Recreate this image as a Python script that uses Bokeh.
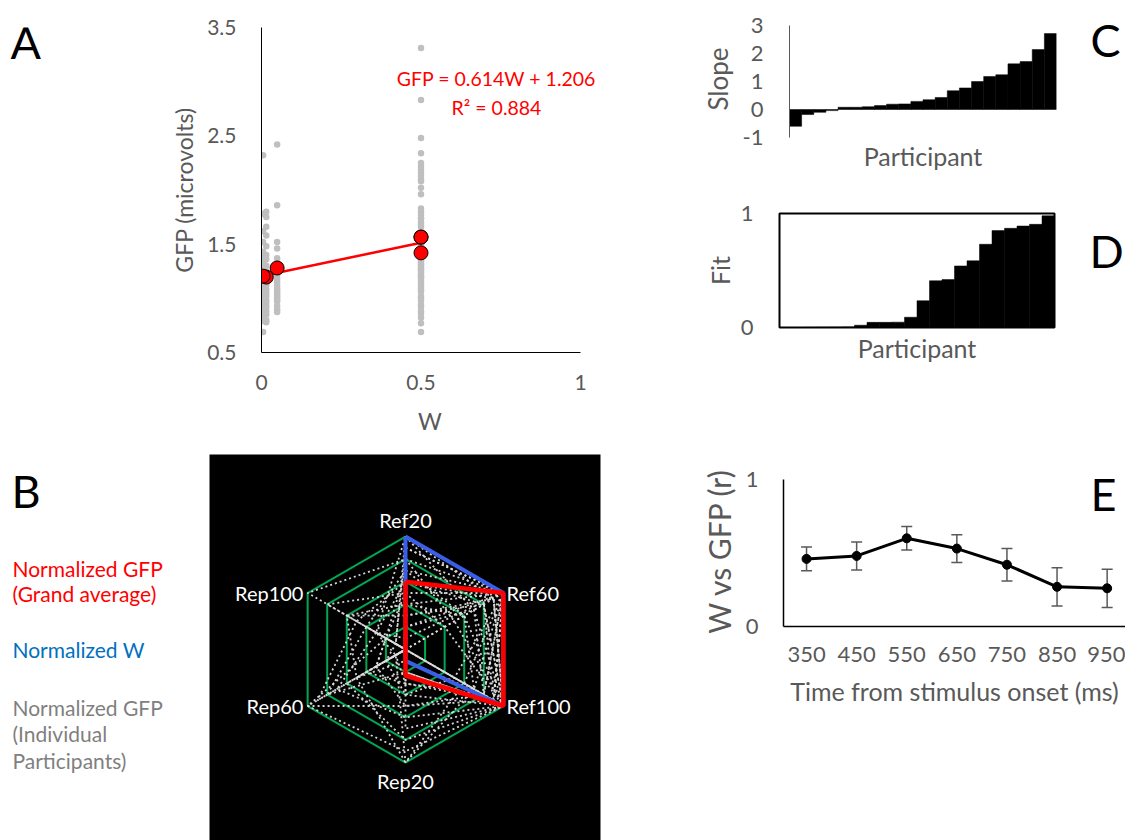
import numpy as np
from bokeh.plotting import figure
from bokeh.layouts import row, column
from bokeh.models import Range1d, FixedTicker, Label, ColumnDataSource, Whisker, TeeHead
from bokeh.embed import file_html
from bokeh.resources import INLINE

# ---------------- data ----------------
conditions = ["Ref20", "Ref60", "Ref100", "Rep20", "Rep60", "Rep100"]
cond_w = [0.5, 0.5, 0.5, 0.049, 0.015, 0.005]
cond_gfp_mean = [1.42, 1.565, 1.565, 1.28, 1.196, 1.205]

gfp_ref20 = [2.48, 2.22, 2.08, 1.83, 1.74, 1.62, 1.55, 1.50, 1.45, 1.40, 1.36,
             1.32, 1.28, 1.24, 1.20, 1.16, 1.12, 1.06, 1.00, 0.92, 0.82, 0.69]
gfp_ref60 = [3.31, 2.25, 2.16, 2.10, 1.96, 1.80, 1.70, 1.66, 1.58, 1.52, 1.47,
             1.42, 1.38, 1.34, 1.30, 1.26, 1.22, 1.18, 1.10, 1.02, 0.94, 0.86]
gfp_ref100 = [2.83, 2.34, 2.19, 2.13, 2.02, 1.77, 1.74, 1.68, 1.60, 1.54, 1.49,
              1.44, 1.40, 1.35, 1.31, 1.27, 1.20, 1.14, 1.08, 0.98, 0.88, 0.77]
gfp_rep20 = [2.42, 1.86, 1.52, 1.46, 1.37, 1.32, 1.28, 1.26, 1.21, 1.18, 1.15,
             1.12, 1.09, 1.07, 1.05, 1.03, 1.01, 0.99, 0.97, 0.93, 0.90, 0.875]
gfp_rep60 = [1.80, 1.75, 1.66, 1.58, 1.48, 1.40, 1.36, 1.30, 1.25, 1.20, 1.15,
             1.12, 1.08, 1.05, 1.02, 0.98, 0.95, 0.92, 0.88, 0.85, 0.80, 0.78]
gfp_rep100 = [2.32, 1.78, 1.62, 1.52, 1.43, 1.38, 1.33, 1.28, 1.22, 1.18, 1.14,
              1.10, 1.07, 1.03, 1.00, 0.97, 0.93, 0.90, 0.86, 0.82, 0.79, 0.69]
fit_slope = 0.614
fit_intercept = 1.206
fit_w_span = [0.005, 0.5]
fit_text = ["GFP = 0.614W + 1.206", "R² = 0.884"]

norm_gfp_avg = [0.6, 1.0, 1.0, 0.23, 0.0, 0.0]
norm_w = [1.0, 1.0, 1.0, 0.1, 0.0, 0.0]
norm_gfp_participants = [
    [1.0, 0.9, 1.0, 0.2, 0.0, 0.1],
    [0.8, 1.0, 0.9, 0.3, 0.1, 0.0],
    [0.5, 1.0, 1.0, 0.0, 0.3, 0.2],
    [0.3, 0.8, 1.0, 0.4, 0.0, 0.6],
    [0.9, 1.0, 0.7, 0.0, 0.2, 0.0],
    [0.6, 0.9, 1.0, 0.7, 0.0, 0.3],
    [0.2, 1.0, 0.8, 0.1, 0.5, 0.0],
    [0.7, 0.6, 1.0, 0.0, 0.0, 0.4],
    [0.0, 1.0, 0.9, 0.5, 1.0, 0.2],
    [1.0, 0.7, 0.8, 0.3, 0.4, 0.0],
    [0.4, 1.0, 0.6, 1.0, 0.1, 0.0],
    [0.8, 0.5, 1.0, 0.2, 0.0, 1.0],
    [0.1, 1.0, 1.0, 0.6, 0.7, 0.3],
    [0.6, 0.8, 0.9, 0.0, 0.9, 0.5],
    [0.9, 1.0, 0.5, 0.4, 0.2, 0.1],
    [0.3, 0.9, 1.0, 0.8, 0.6, 0.0],
    [0.5, 0.4, 1.0, 0.1, 0.0, 0.8],
    [0.7, 1.0, 0.8, 0.5, 0.3, 0.2],
    [0.2, 0.7, 1.0, 0.9, 1.0, 0.0],
    [1.0, 1.0, 0.9, 0.0, 0.1, 0.3],
    [0.4, 0.6, 0.7, 1.0, 0.5, 0.6],
    [0.0, 0.8, 1.0, 0.2, 0.8, 0.4],
]
ring_levels = [0.2, 0.4, 0.6, 0.8, 1.0]
legend_lines = ["Normalized GFP", "(Grand average)", "Normalized W",
                "Normalized GFP", "(Individual", "Participants)"]

slope_values = [-0.6, -0.18, -0.1, -0.04, 0.08, 0.08, 0.1, 0.14, 0.19, 0.2, 0.29,
                0.35, 0.43, 0.67, 0.77, 1.0, 1.18, 1.24, 1.63, 1.71, 2.14, 2.71]
fit_values = [0.0, 0.0, 0.001, 0.002, 0.003, 0.005, 0.02, 0.045, 0.045, 0.047, 0.09,
              0.235, 0.41, 0.42, 0.54, 0.585, 0.73, 0.85, 0.87, 0.89, 0.905, 0.98]

time_ms = [350, 450, 550, 650, 750, 850, 950]
r_values = [0.46, 0.48, 0.60, 0.53, 0.42, 0.27, 0.26]
r_err = [0.08, 0.095, 0.08, 0.095, 0.11, 0.13, 0.13]

# ---------------- style ----------------
FONT = "Lato"
GRAY = "#595959"


def style_axis(ax, size="22px", title_size="25px"):
    ax.major_label_text_font = FONT
    ax.major_label_text_font_size = size
    ax.major_label_text_color = GRAY
    ax.axis_label_text_font = FONT
    ax.axis_label_text_font_size = title_size
    ax.axis_label_text_font_style = "normal"
    ax.axis_label_text_color = GRAY
    ax.major_tick_line_color = None
    ax.minor_tick_line_color = None
    ax.major_tick_out = 0
    ax.major_tick_in = 0


def base_fig(width, height, xr, yr, left, right, top, bottom, axes=True, **kw):
    extra = {} if axes else dict(x_axis_location=None, y_axis_location=None)
    f = figure(width=width, height=height, x_range=Range1d(*xr), y_range=Range1d(*yr),
               output_backend="svg", toolbar_location=None,
               min_border_left=left, min_border_right=right,
               min_border_top=top, min_border_bottom=bottom, **extra, **kw)
    f.grid.visible = False
    f.outline_line_color = None
    return f


def letter(p, x, y, t, size="45px"):
    p.add_layout(Label(x=x, y=y, text=t, text_font=FONT, text_font_size=size,
                       text_color="black", text_align="left", text_baseline="middle"))


# ---------------- Panel A ----------------
# text strip left of panel A (page x 0..150, frame page y 27..352)
pAL = base_fig(150, 448, (0, 150), (352, 27), 0, 0, 27, 96, axes=False)
letter(pAL, 10, 41, "A")

pA = base_fig(468, 448, (0, 337 / 319), (0.5, 3.5), 111, 20, 27, 96)
for ax in (pA.xaxis[0], pA.yaxis[0]):
    style_axis(ax, size="21px", title_size="23px")
    ax.axis_line_color = "black"
pA.xaxis[0].bounds = (0, 1)
pA.xaxis[0].ticker = FixedTicker(ticks=[0, 0.5, 1])
pA.xaxis[0].major_label_overrides = {0: "0", 0.5: "0.5", 1: "1"}
pA.xaxis[0].major_label_standoff = 22
pA.xaxis[0].axis_label = "W"
pA.xaxis[0].axis_label_standoff = 14
pA.yaxis[0].ticker = FixedTicker(ticks=[0.5, 1.5, 2.5, 3.5])
pA.yaxis[0].major_label_standoff = 25
pA.yaxis[0].axis_label = "GFP (microvolts)"
pA.yaxis[0].axis_label_standoff = 6

cond_lists = [gfp_ref20, gfp_ref60, gfp_ref100, gfp_rep20, gfp_rep60, gfp_rep100]
gx, gy = [], []
for w, vals in zip(cond_w, cond_lists):
    gx += [w] * len(vals)
    gy += vals
pA.scatter(gx, gy, size=6.5, fill_color="#bfbfbf", line_color=None)
fx = np.array(fit_w_span)
pA.line(fx, fit_slope * fx + fit_intercept, line_color="red", line_width=2.5)
pA.scatter(cond_w, cond_gfp_mean, size=14, fill_color="red", line_color="black", line_width=1)
for t, yy in zip(fit_text, [3.03, 2.762]):
    pA.add_layout(Label(x=(496 - 261) / 319, y=yy, text=t, text_font=FONT,
                        text_font_size="19.5px", text_color="red", text_align="center",
                        text_baseline="middle"))

# ---------------- Panel B (radar) ----------------
pBL = base_fig(209, 392, (0, 209), (840, 454), 0, 0, 6, 0, axes=False)
legend_colors = ["red", "red", "#0070c0", "#7f7f7f", "#7f7f7f", "#7f7f7f"]
legend_y = [568, 593, 649, 707, 733, 760]
for t, c, yy in zip(legend_lines, legend_colors, legend_y):
    pBL.add_layout(Label(x=12, y=yy, text=t, text_font=FONT, text_font_size="21px",
                         text_color=c, text_align="left", text_baseline="middle"))
letter(pBL, 11, 490, "B")

pB = base_fig(409, 392, (-1.7345, 1.7257), (-1.690, 1.7257), 0, 18, 6, 0, axes=False,
              background_fill_color="black", border_fill_color="white")

theta = np.deg2rad(90 - 60 * np.arange(6))
ct, st = np.cos(theta), np.sin(theta)


def poly(vals):
    v = np.array(vals, dtype=float)
    return list(np.append(v * ct, v[0] * ct[0])), list(np.append(v * st, v[0] * st[0]))


ring_xy = [poly([lv] * 6) for lv in ring_levels]
pB.multi_line([r[0] for r in ring_xy], [r[1] for r in ring_xy], line_color="#00a650",
              line_width=2)
part_xy = [poly(v) for v in norm_gfp_participants]
pB.multi_line([r[0] for r in part_xy], [r[1] for r in part_xy], line_color="#dedede",
              line_width=1.8, line_dash="2 3", line_alpha=0.95)
bx, by = poly(norm_w)
pB.line(bx, by, line_color="#3b5ee6", line_width=4)
rx, ry = poly(norm_gfp_avg)
pB.line(rx, ry, line_color="red", line_width=4.5)

lab_pos = [(0.0, 1.142, "center"), (0.894, 0.504, "left"), (0.894, -0.496, "left"),
           (0.0, -1.16, "center"), (-0.903, -0.496, "right"), (-0.903, 0.504, "right")]
for (lx, ly, al), name in zip(lab_pos, conditions):
    pB.add_layout(Label(x=lx, y=ly, text=name, text_font=FONT, text_font_size="20px",
                        text_color="white", text_align=al, text_baseline="middle"))

# ---------------- Panel C ----------------
npart = len(slope_values)
pidx = list(range(1, npart + 1))
pC = base_fig(457, 183, (0.5, npart + 0.5), (-1, 3 + 5 / 28), 171, 19, 20, 46)
for ax in (pC.xaxis[0], pC.yaxis[0]):
    style_axis(ax)
pC.yaxis[0].bounds = (-1, 3)
pC.yaxis[0].ticker = FixedTicker(ticks=[-1, 0, 1, 2, 3])
pC.yaxis[0].major_label_overrides = {-1: "-1"}
pC.yaxis[0].axis_line_color = GRAY
pC.yaxis[0].major_label_standoff = 26
pC.yaxis[0].axis_label = "Slope"
pC.yaxis[0].axis_label_text_font_size = "26px"
pC.yaxis[0].axis_label_standoff = 6
pC.xaxis[0].ticker = FixedTicker(ticks=[])
pC.xaxis[0].axis_line_color = None
pC.xaxis[0].major_label_standoff = 0
pC.xaxis[0].axis_label = "Participant"
pC.xaxis[0].axis_label_standoff = 3
pC.vbar(x=pidx, top=slope_values, bottom=0, width=1, fill_color="black",
        line_color="black", line_width=0.5)
pCL = base_fig(50, 183, (1075, 1125), (137, 20), 0, 0, 20, 46, axes=False)
letter(pCL, 1090, 39, "C")

# ---------------- Panel D ----------------
pD = base_fig(457, 200, (0.5, npart + 0.5), (0, 1), 161, 21, 30, 56)
pD.outline_line_color = "black"
pD.outline_line_width = 2
for ax in (pD.xaxis[0], pD.yaxis[0]):
    style_axis(ax)
    ax.axis_line_color = None
pD.yaxis[0].ticker = FixedTicker(ticks=[0, 1])
pD.yaxis[0].major_label_standoff = 26
pD.yaxis[0].axis_label = "Fit"
pD.yaxis[0].axis_label_standoff = 3
pD.xaxis[0].ticker = FixedTicker(ticks=[])
pD.xaxis[0].major_label_standoff = 0
pD.xaxis[0].axis_label = "Participant"
pD.xaxis[0].axis_label_standoff = 5
pD.vbar(x=pidx, top=fit_values, bottom=0, width=1, fill_color="black",
        line_color="black", line_width=0.5)
pDL = base_fig(50, 200, (1075, 1125), (327, 213), 0, 0, 30, 56, axes=False)
letter(pDL, 1089, 250, "D")

# ---------------- Panel E ----------------
pE = base_fig(507, 457, (304, 304 + 342 / 0.501), (0, 1 + 4 / 147), 165, 0, 92, 214)
for ax in (pE.xaxis[0], pE.yaxis[0]):
    style_axis(ax)
    ax.axis_line_color = "black"
    ax.axis_line_width = 1.5
pE.yaxis[0].bounds = (0, 1)
pE.xaxis[0].ticker = FixedTicker(ticks=time_ms)
pE.xaxis[0].major_label_standoff = 20
pE.xaxis[0].axis_label = "Time from stimulus onset (ms)"
pE.xaxis[0].axis_label_standoff = 11
pE.yaxis[0].ticker = FixedTicker(ticks=[0, 1])
pE.yaxis[0].major_label_standoff = 25
pE.yaxis[0].axis_label = "W vs GFP (r)"
pE.yaxis[0].axis_label_text_font_size = "30px"
pE.yaxis[0].axis_label_standoff = 6

srcE = ColumnDataSource(dict(x=time_ms, r=r_values,
                             upper=[a + b for a, b in zip(r_values, r_err)],
                             lower=[a - b for a, b in zip(r_values, r_err)]))
pE.add_layout(Whisker(base="x", upper="upper", lower="lower", source=srcE,
                      line_color=GRAY, line_width=1.5,
                      upper_head=TeeHead(size=11, line_color=GRAY, line_width=1.5),
                      lower_head=TeeHead(size=11, line_color=GRAY, line_width=1.5)))
pE.line("x", "r", source=srcE, line_color="black", line_width=3)
pE.scatter("x", "r", source=srcE, size=9, fill_color="black", line_color="black")
letter(pE, 304 + (1090 - 783) / 0.501, (626 - 493) / 147, "E")

layout = row(column(row(pAL, pA), row(pBL, pB)),
             column(row(pC, pCL), row(pD, pDL), row(pE)))
open("out.html", "w").write(file_html(layout, INLINE))
